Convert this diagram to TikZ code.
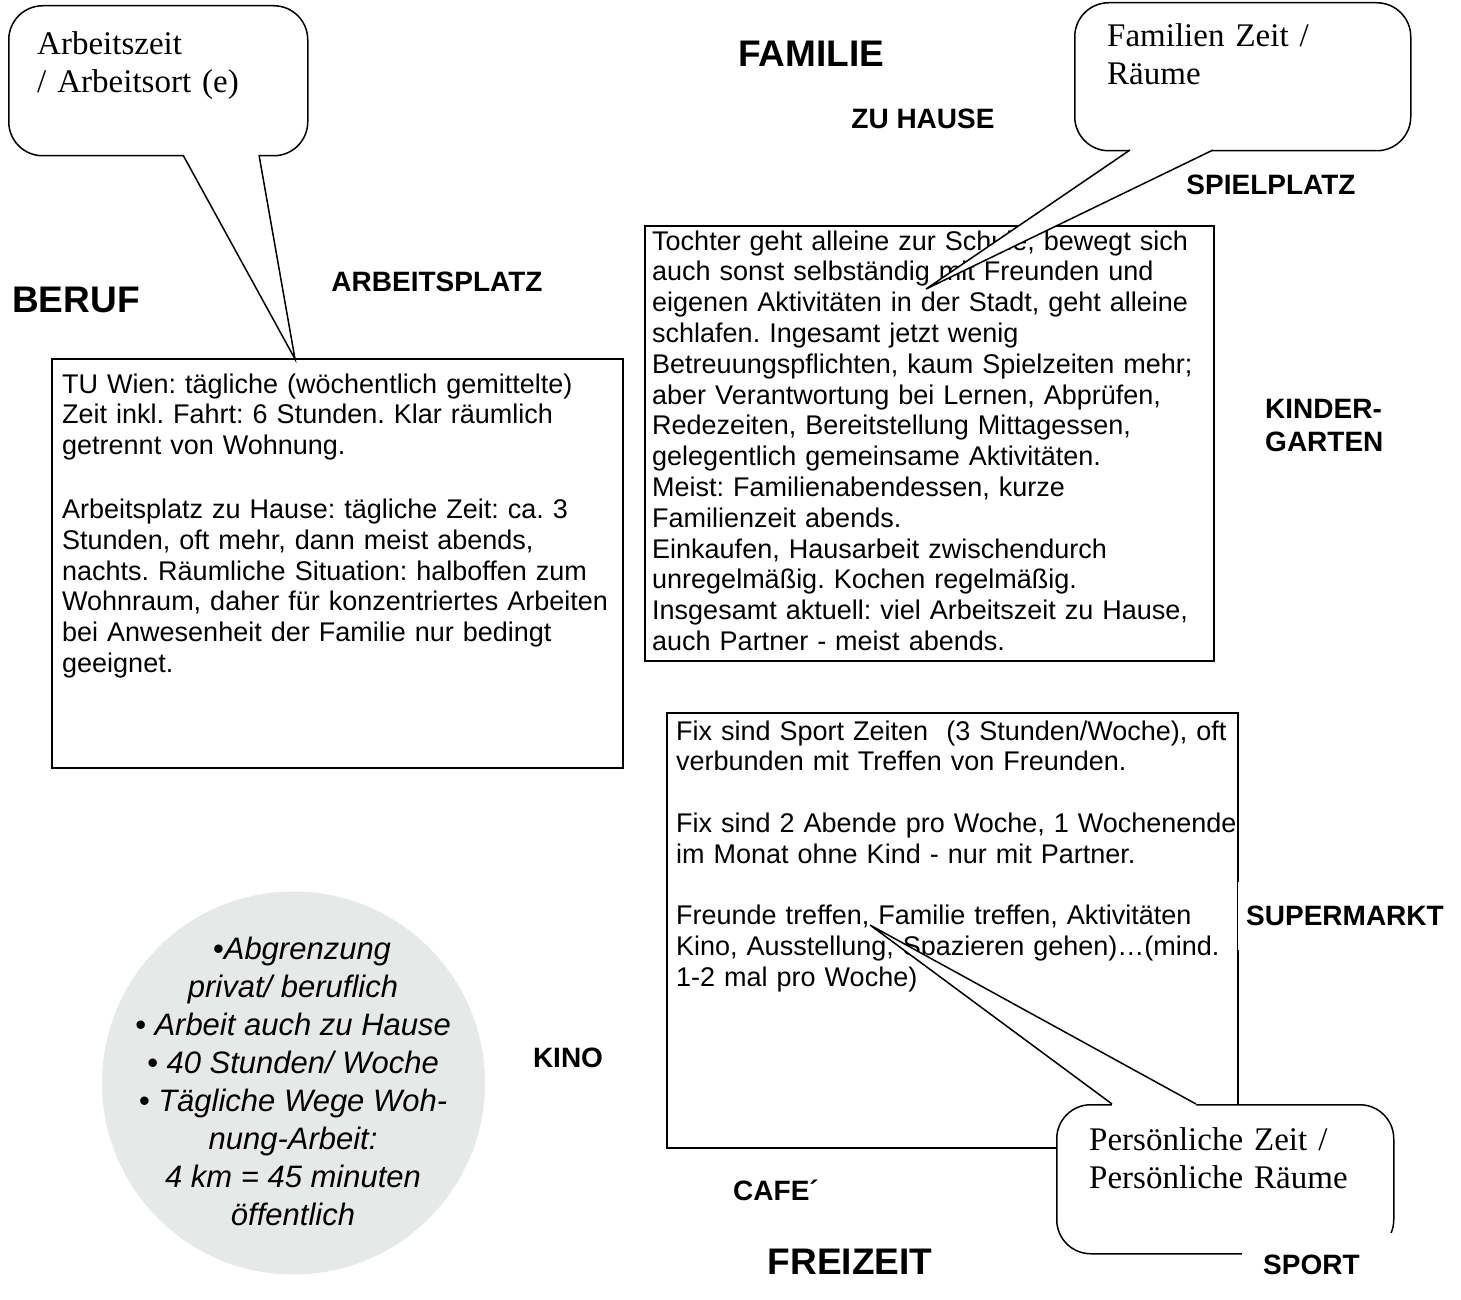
\documentclass[tikz,border=0pt]{standalone}
\usepackage{fontspec}
\setmainfont{Liberation Sans}
\newfontfamily\calfont{Liberation Serif}
\definecolor{circlegray}{RGB}{231,232,232}
\frenchspacing
\begin{document}
\frenchspacing
\begin{tikzpicture}[x=1pt,y=-1pt,
  frame/.style={draw=black, line width=1.7pt, inner sep=0pt, anchor=north west},
  boxtext/.style={anchor=base west, inner sep=0pt, text width=#1, align=left,
    font=\frenchspacing\fontsize{27}{30.8}\selectfont},
  calloutbody/.style={draw=black, fill=white, line width=1.5pt, rounded corners=34pt,
    inner sep=0pt, anchor=north west},
  calloutline/.style={draw=black, line width=1.5pt, line join=miter},
  callouttext/.style={anchor=base west, inner sep=0pt, text width=#1, align=left,
    font=\calfont\fontsize{33}{38}\selectfont},
  lbl/.style={inner sep=0pt, font=\bfseries\fontsize{28}{33}\selectfont},
  biglbl/.style={inner sep=0pt, font=\bfseries\fontsize{37}{44}\selectfont},
  coverlbl/.style={fill=white, inner ysep=0pt, font=\bfseries\fontsize{28}{33}\selectfont}
]
\useasboundingbox (0,0) rectangle (1461,1300);

% grey circle
\node[circle, fill=circlegray, minimum size=383pt, inner sep=0pt] (circ) at (293.5,1083) {};
\node[align=center, inner sep=0pt, font=\itshape\fontsize{31}{38}\selectfont] (circtext) at (293,1081)
  {\hspace*{18pt}•Abgrenzung\\privat/ beruflich\\• Arbeit auch zu Hause\\• 40 Stunden/ Woche\\• Tägliche Wege Woh-\\nung-Arbeit:\\4 km = 45 minuten\\öffentlich};

% text boxes
\node[frame, minimum width=571pt, minimum height=409pt] (box1) at (51,358) {};
\node[boxtext=600pt] (t1) at (62,393)
  {TU Wien: tägliche (wöchentlich gemittelte)\\
   Zeit inkl. Fahrt: 6 Stunden. Klar räumlich\\
   getrennt von Wohnung.\\[33pt]
   Arbeitsplatz zu Hause: tägliche Zeit: ca. 3\\
   Stunden, oft mehr, dann meist abends,\\
   nachts. Räumliche Situation: halboffen zum\\
   Wohnraum, daher für konzentriertes Arbeiten\\
   bei Anwesenheit der Familie nur bedingt\\
   geeignet.};

\node[frame, minimum width=569pt, minimum height=435pt] (box2) at (644,225) {};
\node[boxtext=600pt] (t2) at (652,250)
  {Tochter geht alleine zur Schule, bewegt sich\\
   auch sonst selbständig mit Freunden und\\
   eigenen Aktivitäten in der Stadt, geht alleine\\
   schlafen. Ingesamt jetzt wenig\\
   Betreuungspflichten, kaum Spielzeiten mehr;\\
   aber Verantwortung bei Lernen, Abprüfen,\\
   Redezeiten, Bereitstellung Mittagessen,\\
   gelegentlich gemeinsame Aktivitäten.\\
   Meist: Familienabendessen, kurze\\
   Familienzeit abends.\\
   Einkaufen, Hausarbeit zwischendurch\\
   unregelmäßig. Kochen regelmäßig.\\
   Insgesamt aktuell: viel Arbeitszeit zu Hause,\\
   auch Partner - meist abends.};

\node[frame, minimum width=571pt, minimum height=435pt] (box3) at (666,712) {};
\node[boxtext=600pt] (t3) at (676,740)
  {Fix sind Sport Zeiten \ (3 Stunden/Woche), oft\\
   verbunden mit Treffen von Freunden.\\[30.8pt]
   Fix sind 2 Abende pro Woche, 1 Wochenende\\
   im Monat ohne Kind - nur mit Partner.\\[30.8pt]
   Freunde treffen, Familie treffen, Aktivitäten\\
   Kino, Ausstellung, Spazieren gehen)\ldots(mind.\\
   1-2 mal pro Woche)};

% labels
\node[biglbl] (familie) at (811,54) {FAMILIE};
\node[lbl] (zuhause) at (923,119) {ZU HAUSE};
\node[lbl] (spielplatz) at (1271,185) {SPIELPLATZ};
\node[lbl] (arbeitsplatz) at (437,282) {ARBEITSPLATZ};
\node[biglbl] (beruf) at (76,300) {BERUF};
\node[lbl, anchor=base west, text width=150pt, align=left] (kindergarten) at (1265,418) {KINDER-\\GARTEN};
\node[lbl] (kino) at (568,1058) {KINO};
\node[lbl] (cafe) at (776,1190) {CAFE´};
\node[biglbl] (freizeit) at (850,1262) {FREIZEIT};

% callout 1 (Arbeitszeit)
\node[calloutbody, minimum width=299pt, minimum height=150pt] (c1) at (8,5) {};
\coordinate (c1a) at (183,155);
\coordinate (c1b) at (259,155);
\coordinate (c1tip) at (295,359);
\fill[white] ([yshift=2.5pt]c1a) -- (c1a) -- (c1tip) -- (c1b) -- ([yshift=2.5pt]c1b) -- cycle;
\draw[calloutline] (c1a) -- (c1tip) -- (c1b);
\node[callouttext=260pt] (c1t) at (37,55) {Arbeitszeit\\/ Arbeitsort (e)};

% callout 2 (Familien Zeit)
\node[calloutbody, minimum width=336pt, minimum height=148pt] (c2) at (1074,2) {};
\coordinate (c2a) at (1130,150);
\coordinate (c2b) at (1213,150);
\coordinate (c2tip) at (926,289);
\fill[white] ([yshift=2.5pt]c2a) -- (c2a) -- (c2tip) -- (c2b) -- ([yshift=2.5pt]c2b) -- cycle;
\draw[calloutline] (c2a) -- (c2tip) -- (c2b);
\node[callouttext=290pt] (c2t) at (1107,47) {Familien Zeit /\\Räume};

% callout 3 (Persoenliche Zeit)
\node[calloutbody, minimum width=337pt, minimum height=149pt] (c3) at (1056,1104) {};
\coordinate (c3a) at (1112,1104);
\coordinate (c3b) at (1196,1104);
\coordinate (c3tip) at (870,925);
\fill[white] ([yshift=-2.5pt]c3a) -- (c3a) -- (c3tip) -- (c3b) -- ([yshift=-2.5pt]c3b) -- cycle;
\draw[calloutline] (c3a) -- (c3tip) -- (c3b);
\node[callouttext=300pt] (c3t) at (1089,1150) {Persönliche Zeit /\\Persönliche Räume};

% labels with white background (cover lines)
\node[coverlbl, inner xsep=8pt, minimum height=68pt] (supermarkt) at (1345,916) {SUPERMARKT};
\node[coverlbl, anchor=west, inner xsep=21pt, text width=150pt, align=left, minimum height=64pt] (sport) at (1242,1265) {SPORT};
\end{tikzpicture}
\end{document}
